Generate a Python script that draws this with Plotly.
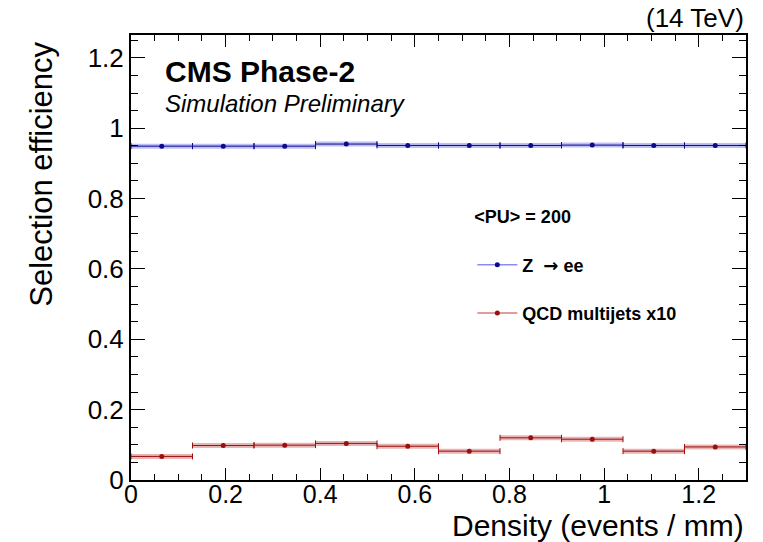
import plotly.graph_objects as go

# ---- data ----
bin_centers = [0.065, 0.195, 0.325, 0.455, 0.585, 0.715, 0.845, 0.975, 1.105, 1.235]
bin_half_width = [0.065] * 10
z_ee_eff = [0.949, 0.949, 0.949, 0.955, 0.951, 0.951, 0.951, 0.952, 0.951, 0.951]
z_ee_err = [0.002] * 10
qcd_x10_eff = [0.067, 0.098, 0.099, 0.104, 0.096, 0.082, 0.120, 0.116, 0.082, 0.094]
qcd_x10_err = [0.003] * 10
x_ticks = [0, 0.2, 0.4, 0.6, 0.8, 1.0, 1.2]
y_ticks = [0, 0.2, 0.4, 0.6, 0.8, 1.0, 1.2]

FONT = "Liberation Sans, Arial, Helvetica, sans-serif"

series = [
    dict(name="Z  <span style='font-family:DejaVu Sans'>→</span> ee", y=z_ee_eff, err=z_ee_err,
         dark="#0a0a8c", band="rgba(110,110,235,0.45)"),
    dict(name="QCD multijets x10", y=qcd_x10_eff, err=qcd_x10_err, dark="#9b0f0f", band="rgba(205,90,90,0.45)"),
]

fig = go.Figure()
for i, s in enumerate(series):
    # translucent band along each bin
    fig.add_trace(go.Scatter(
        x=bin_centers, y=s["y"], mode="markers",
        marker=dict(size=1, color="rgba(0,0,0,0)"),
        error_x=dict(type="data", array=bin_half_width, thickness=5, width=0, color=s["band"]),
        showlegend=False, hoverinfo="skip",
    ))
    # points with horizontal bin bars and end caps
    fig.add_trace(go.Scatter(
        x=bin_centers, y=s["y"], mode="markers",
        marker=dict(size=5, color=s["dark"]),
        error_x=dict(type="data", array=bin_half_width, thickness=1, width=3, color=s["dark"]),
        error_y=dict(type="data", array=s["err"], thickness=1, width=0, color=s["dark"]),
        showlegend=False,
    ))
    # legend entry
    fig.add_trace(go.Scatter(
        x=[None], y=[None], mode="lines+markers", name=s["name"],
        line=dict(color=s["band"].replace("0.45", "0.8"), width=1.5),
        marker=dict(size=5, color=s["dark"]),
        legendgroup=f"g{i}",
    ))

fig.update_layout(
    width=763, height=542,
    margin=dict(l=131, r=17, t=35, b=62),
    paper_bgcolor="white", plot_bgcolor="white",
    font=dict(family=FONT, color="black"),
    showlegend=True,
    legend=dict(
        x=0.555, y=0.63, xanchor="left", yanchor="top",
        bgcolor="rgba(0,0,0,0)",
        font=dict(size=18, family=FONT, weight="bold"),
        title=dict(text="<b>&lt;PU&gt; = 200</b><br> ", font=dict(size=18, family=FONT)),
        tracegroupgap=22,
        itemwidth=40,
    ),
    xaxis=dict(
        range=[0, 1.3], tickvals=x_ticks, ticktext=["0", "0.2", "0.4", "0.6", "0.8", "1", "1.2"],
        ticks="inside", ticklen=12, tickwidth=1, tickcolor="black",
        minor=dict(dtick=0.05, ticks="inside", ticklen=6, tickcolor="black"),
        showline=True, linecolor="black", linewidth=2, mirror="ticks",
        showgrid=False, zeroline=False,
        tickfont=dict(size=25, family=FONT),
    ),
    yaxis=dict(
        range=[0, 1.265], tickvals=y_ticks, ticktext=["0", "0.2", "0.4", "0.6", "0.8", "1", "1.2"],
        ticks="inside", ticklen=14, tickwidth=1, tickcolor="black",
        minor=dict(dtick=0.05, ticks="inside", ticklen=7, tickcolor="black"),
        showline=True, linecolor="black", linewidth=2, mirror="ticks",
        showgrid=False, zeroline=False,
        tickfont=dict(size=26, family=FONT),
    ),
)
try:
    fig.update_xaxes(ticklabelstandoff=-9)
except Exception:
    pass

ann = [
    dict(text="(14 TeV)", x=1.0, y=1.0, xref="paper", yref="paper", xanchor="right", yanchor="bottom",
         yshift=0, showarrow=False, font=dict(size=26, family=FONT)),
    dict(text="<b>CMS Phase-2</b>", x=0.052, y=0.917, xref="paper", yref="paper", xanchor="left", yanchor="middle",
         showarrow=False, font=dict(size=30, family=FONT)),
    dict(text="<i>Simulation Preliminary</i>", x=0.052, y=0.845, xref="paper", yref="paper", xanchor="left",
         yanchor="middle", showarrow=False, font=dict(size=24, family=FONT)),
    dict(text="Selection efficiency", x=-0.145, y=0.99, xref="paper", yref="paper", xanchor="center",
         yanchor="top", textangle=-90, showarrow=False, font=dict(size=31, family=FONT)),
    dict(text="Density (events / mm)", x=1.0, y=-0.103, xref="paper", yref="paper", xanchor="right",
         yanchor="middle", showarrow=False, font=dict(size=30, family=FONT)),
]
fig.update_layout(annotations=ann)

fig.write_html("out.html")
